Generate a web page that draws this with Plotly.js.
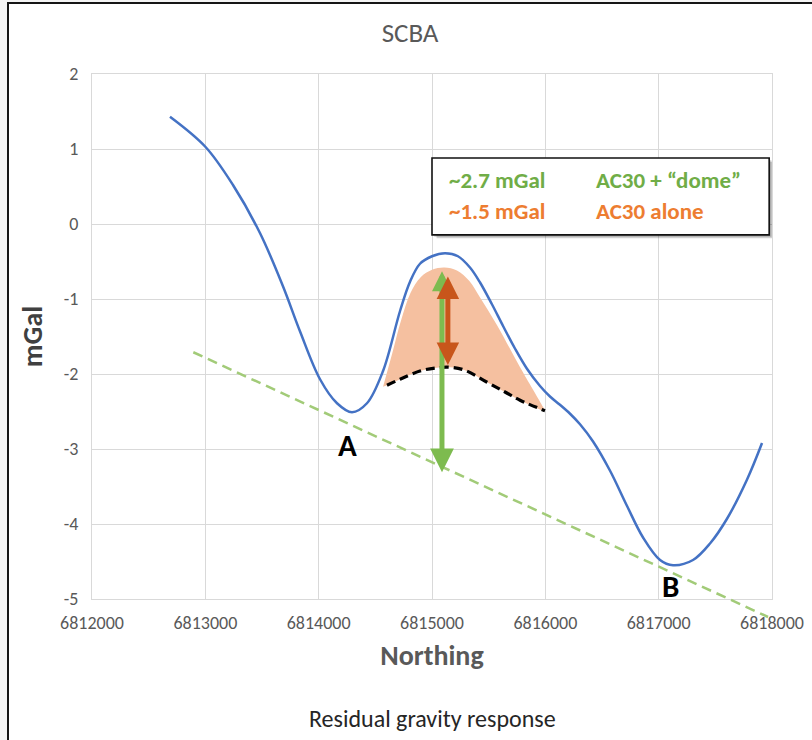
<!DOCTYPE html>
<html>
<head>
<meta charset="utf-8">
<script src="https://cdn.plot.ly/plotly-3.0.1.min.js"></script>
<style>
  html, body { margin:0; padding:0; width:812px; height:740px; background:#f4f4f4; overflow:hidden; }
  #frame { position:absolute; left:7px; top:2px; width:805px; height:738px; background:#ffffff;
           border-top:2px solid #151515; border-left:2px solid #151515; box-sizing:border-box; }
  #chart { position:absolute; left:0; top:0; width:812px; height:740px; }
</style>
</head>
<body>
<div id="frame"></div>
<div id="chart"></div>
<script>
// ---- data ----
const curveX = [6812688, 6813000, 6813244, 6813482, 6813685, 6813835, 6814012, 6814162, 6814294,
                6814426, 6814568, 6814718, 6814806, 6814894, 6815000, 6815115, 6815229,
                6815335, 6815424, 6815529, 6815627, 6815732, 6815838, 6815953, 6816041, 6816129,
                6816218, 6816306, 6816421, 6816571, 6816721, 6816862, 6817012, 6817127, 6817303,
                6817453, 6817603, 6817779, 6817912];
const curveY = [1.43, 1.03, 0.52, -0.12, -0.83, -1.43, -2.07, -2.39, -2.51,
                -2.39, -1.96, -1.16, -0.77, -0.53, -0.43, -0.39, -0.43,
                -0.58, -0.78, -1.07, -1.36, -1.66, -1.93, -2.16, -2.30, -2.41,
                -2.53, -2.67, -2.90, -3.29, -3.76, -4.18, -4.48, -4.55, -4.48,
                -4.26, -3.93, -3.41, -2.92];

const trendX = [6812894, 6817965];
const trendY = [-1.71, -5.24];

const domeX = [6814603, 6814718, 6814894, 6815027, 6815159, 6815291, 6815486, 6815644, 6815777, 6815997];
const domeY = [-2.15, -2.07, -1.96, -1.92, -1.91, -1.95, -2.11, -2.24, -2.35, -2.49];

const fillTopX = [6814568, 6814650, 6814730, 6814810, 6814900, 6815000, 6815110, 6815220, 6815330, 6815424, 6815574, 6815777, 6815980];
const fillTopY = [-2.17, -1.72, -1.27, -0.92, -0.71, -0.61, -0.58, -0.62, -0.76, -0.98, -1.35, -1.91, -2.44];

const greenArrowX = 6815088;
const greenArrowY = [-0.61, -3.31];
const orangeArrowX = 6815140;
const orangeArrowY = [-0.68, -1.88];

const pointLabels = ['A', 'B'];
const pointLabelX = [6814253, 6817100];
const pointLabelY = [-2.95, -4.82];

const legendValues = ['~2.7 mGal', '~1.5 mGal'];
const legendNames = ['AC30 + \u201Cdome\u201D', 'AC30 alone'];
const legendColors = ['#70AD47', '#ED7D31'];

const xTickVals = [6812000, 6813000, 6814000, 6815000, 6816000, 6817000, 6818000];
const xTickText = ['6812000', '6813000', '6814000', '6815000', '6816000', '6817000', '6818000'];
const yTickVals = [-5, -4, -3, -2, -1, 0, 1, 2];
const yTickText = ['-5', '-4', '-3', '-2', '-1', '0', '1', '2'];

// ---- drawing ----
const FONT = "Carlito, Lato, 'Open Sans', sans-serif";

const polyX = fillTopX.concat(domeX.slice().reverse());
const polyY = fillTopY.concat(domeY.slice().reverse());

const traces = [
  { x: polyX, y: polyY, type: 'scatter', mode: 'lines', fill: 'toself',
    fillcolor: '#F5C0A0', line: { width: 0, shape: 'spline', smoothing: 1 }, hoverinfo: 'skip' },
  { x: curveX, y: curveY, type: 'scatter', mode: 'lines',
    line: { color: '#4472C4', width: 2.5, shape: 'spline', smoothing: 1 }, hoverinfo: 'skip' },
  { x: domeX, y: domeY, type: 'scatter', mode: 'lines',
    line: { color: '#000000', width: 3.2, dash: '9px,5px', shape: 'spline', smoothing: 1 }, hoverinfo: 'skip' },
  { x: trendX, y: trendY, type: 'scatter', mode: 'lines', xaxis: 'x2', yaxis: 'y2',
    line: { color: '#A2CB78', width: 2.5, dash: '10px,6px' }, hoverinfo: 'skip' }
];

const annotations = [];
annotations.push({ x: greenArrowX, y: greenArrowY[1], ax: greenArrowX, ay: greenArrowY[0],
  xref: 'x', yref: 'y', axref: 'x', ayref: 'y', text: '', showarrow: true,
  arrowside: 'end+start', arrowhead: 2, startarrowhead: 2, arrowsize: 0.95, startarrowsize: 0.8,
  arrowwidth: 5, arrowcolor: '#7DBB4F', standoff: 0, startstandoff: 0 });
annotations.push({ x: orangeArrowX, y: orangeArrowY[1], ax: orangeArrowX, ay: orangeArrowY[0],
  xref: 'x', yref: 'y', axref: 'x', ayref: 'y', text: '', showarrow: true,
  arrowside: 'end+start', arrowhead: 2, startarrowhead: 2, arrowsize: 0.9, startarrowsize: 0.9,
  arrowwidth: 5, arrowcolor: '#C8561B', standoff: 0, startstandoff: 0 });
pointLabels.forEach((t, i) => annotations.push({
  x: pointLabelX[i], y: pointLabelY[i], xref: 'x', yref: 'y', text: '<b>' + t + '</b>',
  showarrow: false, font: { family: FONT, size: 31, color: '#000000' } }));
legendValues.forEach((t, i) => {
  const yy = i === 0 ? 0.585 : 0.17;
  annotations.push({ x: 6815130, y: yy, xref: 'x', yref: 'y', xanchor: 'left', yanchor: 'middle',
    text: '<b>' + t + '</b>', showarrow: false, font: { family: FONT, size: 23, color: legendColors[i] } });
  annotations.push({ x: 6816430, y: yy, xref: 'x', yref: 'y', xanchor: 'left', yanchor: 'middle',
    text: '<b>' + legendNames[i] + '</b>', showarrow: false, font: { family: FONT, size: 23, color: legendColors[i] } });
});
annotations.push({ x: 0.5, y: -0.169, xref: 'paper', yref: 'paper', yanchor: 'middle',
  text: 'Residual gravity response', showarrow: false, font: { family: FONT, size: 24, color: '#262626' } });

const shapes = [
  { type: 'rect', xref: 'x', yref: 'y', x0: 6815040, x1: 6818010, y0: 0.83, y1: -0.19,
    fillcolor: 'rgba(0,0,0,0.18)', line: { width: 0 }, layer: 'above' },
  { type: 'rect', xref: 'x', yref: 'y', x0: 6815020, x1: 6817995, y0: 0.85, y1: -0.17,
    fillcolor: 'rgba(0,0,0,0.18)', line: { width: 0 }, layer: 'above' },
  { type: 'rect', xref: 'x', yref: 'y', x0: 6815000, x1: 6817975, y0: 0.88, y1: -0.145,
    fillcolor: '#ffffff', line: { color: '#111111', width: 1.6 }, layer: 'above' }
];

const layout = {
  width: 812, height: 740,
  margin: { l: 92, r: 40, t: 74, b: 115 },
  paper_bgcolor: 'rgba(0,0,0,0)', plot_bgcolor: 'rgba(0,0,0,0)',
  showlegend: false,
  font: { family: FONT },
  title: { text: 'SCBA', font: { family: FONT, size: 27, color: '#595959' },
           xref: 'container', x: 0.505, yref: 'container', y: 1 - 33 / 740, yanchor: 'middle' },
  xaxis: { range: [6812000, 6818000], tickvals: xTickVals, ticktext: xTickText, anchor: 'y',
           showgrid: true, gridcolor: '#d9d9d9', gridwidth: 1, zeroline: false,
           showline: true, linecolor: '#d9d9d9', mirror: true, ticks: '',
           ticklabelstandoff: 7,
           tickfont: { family: FONT, size: 18, color: '#595959' },
           title: { text: '<b>Northing</b>', font: { family: FONT, size: 28, color: '#595959' }, standoff: 12 } },
  yaxis: { range: [-5, 2], tickvals: yTickVals, ticktext: yTickText, domain: [26 / 551, 1], anchor: 'x',
           showgrid: true, gridcolor: '#d9d9d9', gridwidth: 1, zeroline: false,
           showline: true, linecolor: '#d9d9d9', mirror: true, ticks: '',
           ticklabelstandoff: 9,
           tickfont: { family: FONT, size: 18, color: '#595959' },
           title: { text: '<b>mGal</b>', font: { family: FONT, size: 28, color: '#404040' }, standoff: 12 } },
  xaxis2: { range: [6812000, 6818000], domain: [0, 1], anchor: 'y2', visible: false, overlaying: 'x' },
  yaxis2: { range: [2 - 551 / 75, 2], domain: [0, 1], anchor: 'x2', visible: false },
  annotations: annotations,
  shapes: shapes
};

Plotly.newPlot('chart', traces, layout, { staticPlot: true, displayModeBar: false });
</script>
</body>
</html>
